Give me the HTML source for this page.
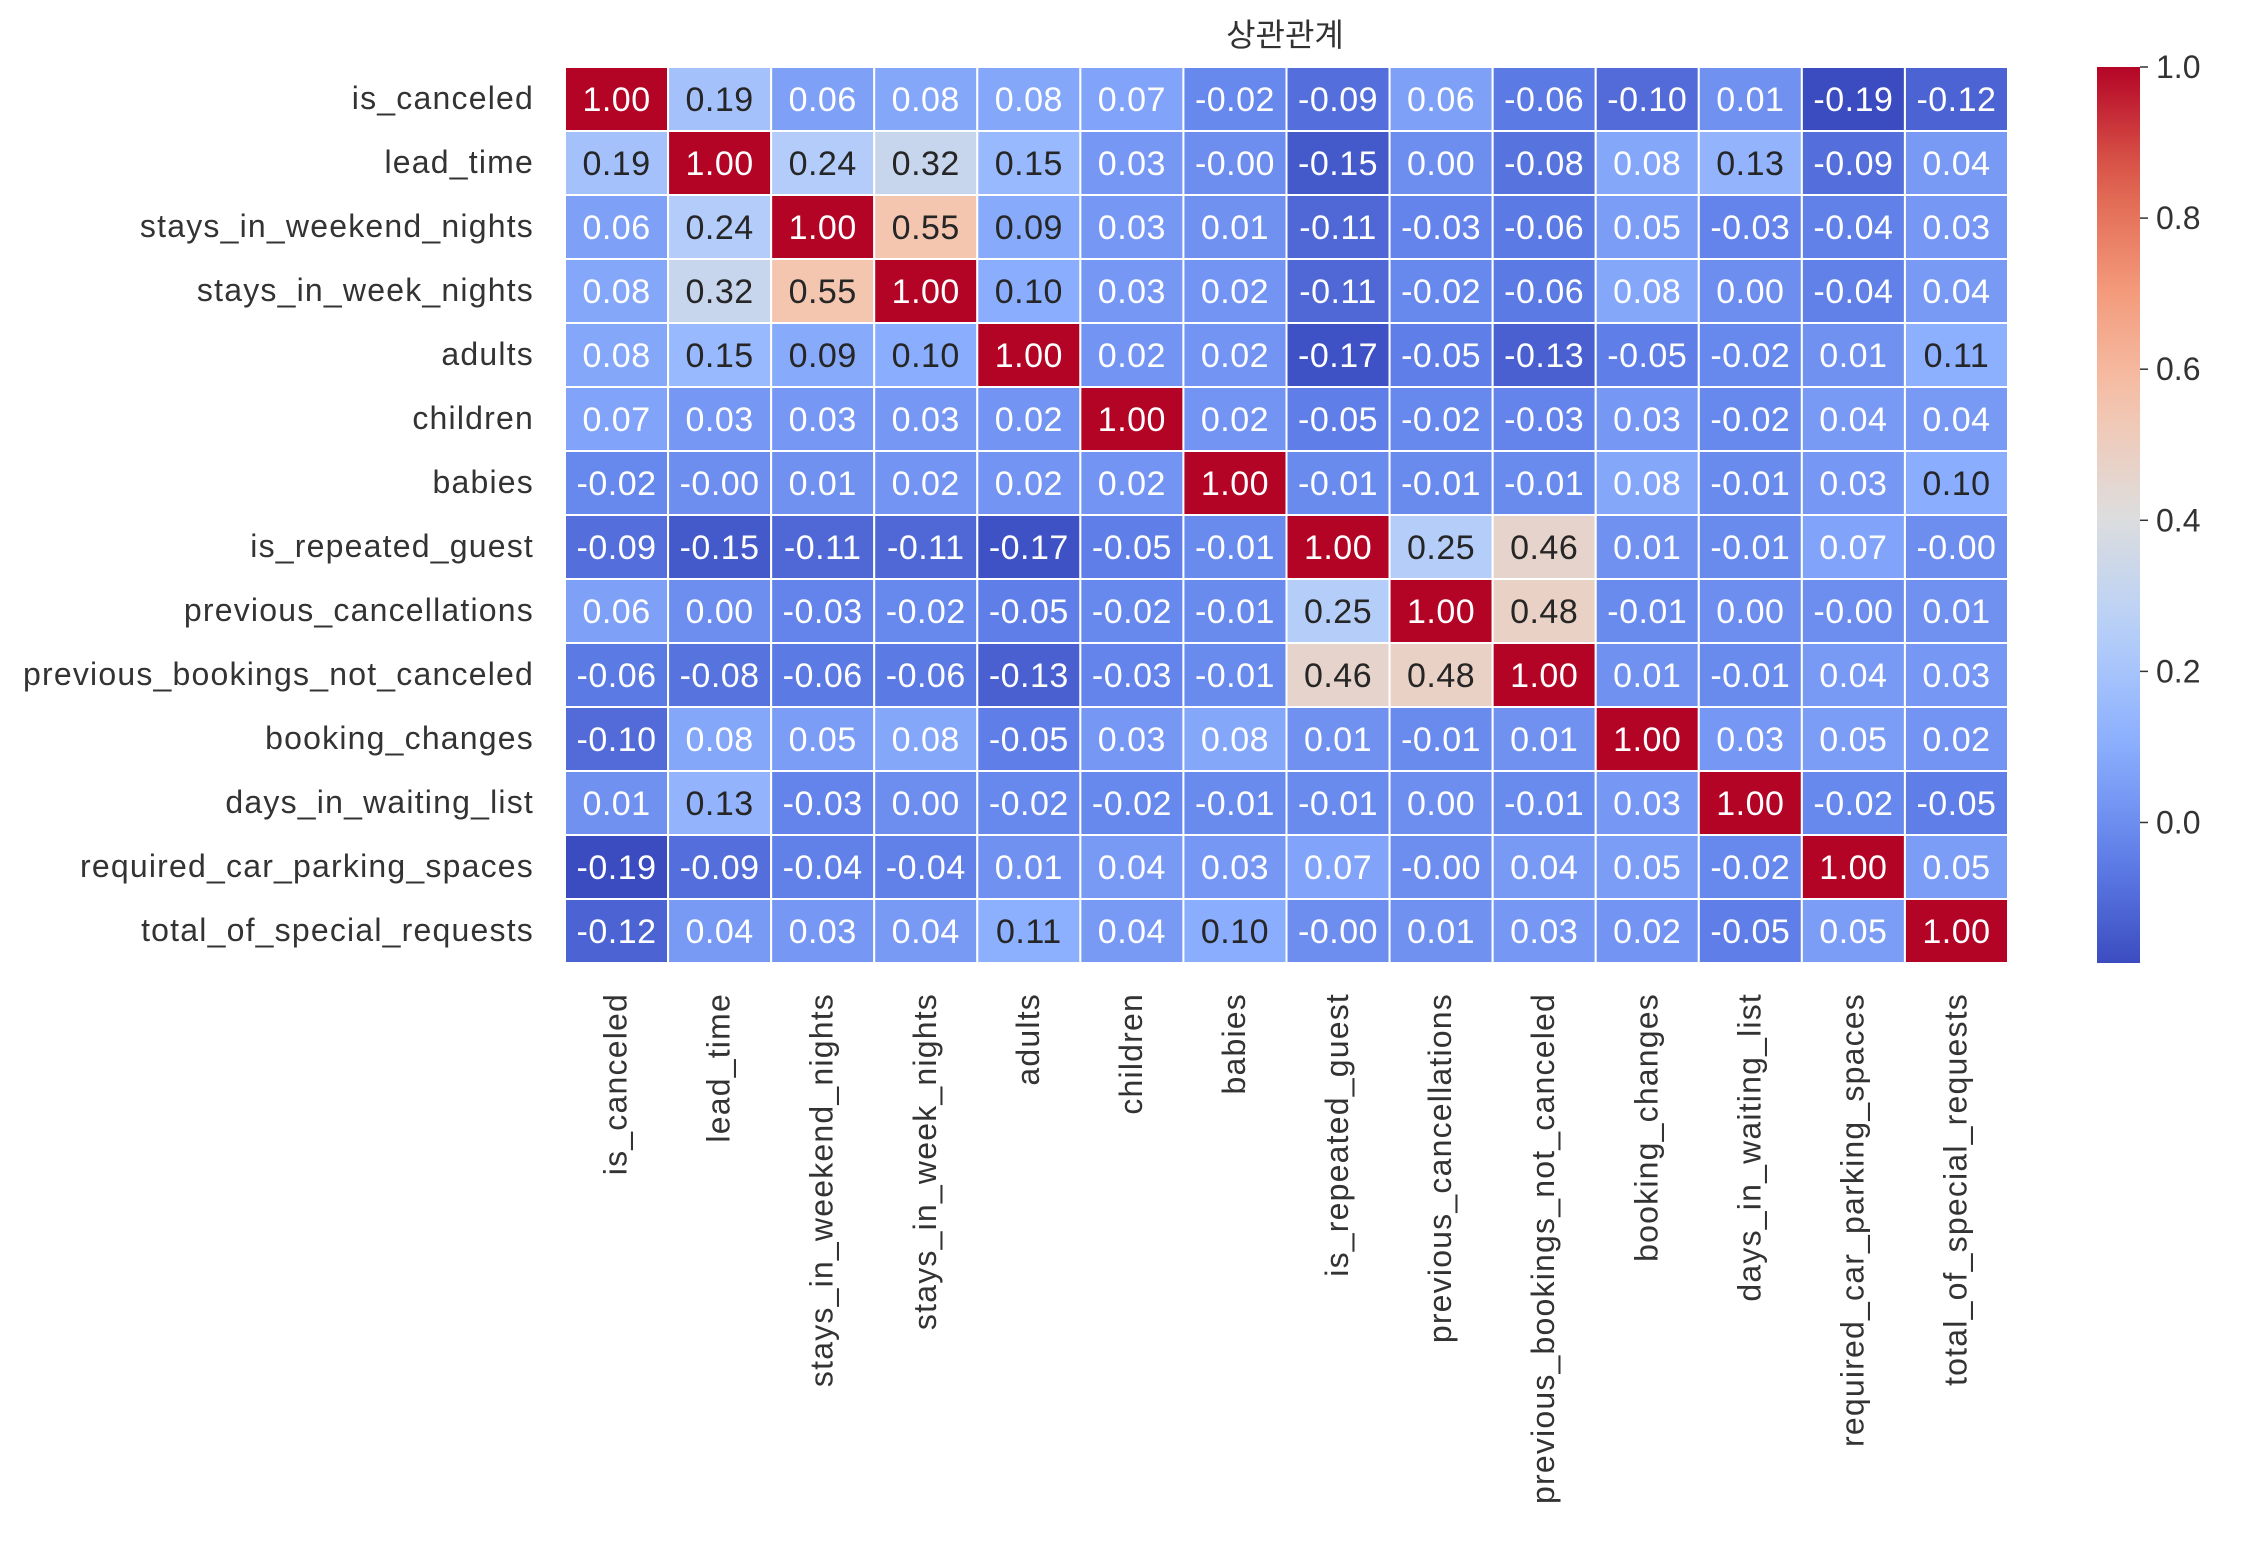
<!DOCTYPE html>
<html><head><meta charset="utf-8"><style>
html,body{margin:0;padding:0;background:#fff;}
svg text{font-family:"Liberation Sans","Noto Sans CJK KR",sans-serif;}
</style></head><body>
<svg id="chart" width="2244" height="1538" viewBox="0 0 2244 1538" xmlns="http://www.w3.org/2000/svg">
<text x="1285" y="46" font-size="32" text-anchor="middle" fill="#333">상관관계</text>
<g id="cells"></g><g id="ylabels"></g><g id="xlabels"></g>
<defs><linearGradient id="cbgrad" x1="0" y1="1" x2="0" y2="0"></linearGradient></defs>
<g id="colorbar"></g>
</svg>
<script>
const labels=["is_canceled","lead_time","stays_in_weekend_nights","stays_in_week_nights","adults","children","babies","is_repeated_guest","previous_cancellations","previous_bookings_not_canceled","booking_changes","days_in_waiting_list","required_car_parking_spaces","total_of_special_requests"];
const r01=[1.00,0.19,0.06,0.08,0.08,0.07,-0.02,-0.09,0.06,-0.06,-0.10,0.01,-0.19,-0.12];
const r02=[0.19,1.00,0.24,0.32,0.15,0.03,-0.001,-0.15,0.00,-0.08,0.08,0.13,-0.09,0.04];
const r03=[0.06,0.24,1.00,0.55,0.09,0.03,0.01,-0.11,-0.03,-0.06,0.05,-0.03,-0.04,0.03];
const r04=[0.08,0.32,0.55,1.00,0.10,0.03,0.02,-0.11,-0.02,-0.06,0.08,0.00,-0.04,0.04];
const r05=[0.08,0.15,0.09,0.10,1.00,0.02,0.02,-0.17,-0.05,-0.13,-0.05,-0.02,0.01,0.11];
const r06=[0.07,0.03,0.03,0.03,0.02,1.00,0.02,-0.05,-0.02,-0.03,0.03,-0.02,0.04,0.04];
const r07=[-0.02,-0.001,0.01,0.02,0.02,0.02,1.00,-0.01,-0.01,-0.01,0.08,-0.01,0.03,0.10];
const r08=[-0.09,-0.15,-0.11,-0.11,-0.17,-0.05,-0.01,1.00,0.25,0.46,0.01,-0.01,0.07,-0.001];
const r09=[0.06,0.00,-0.03,-0.02,-0.05,-0.02,-0.01,0.25,1.00,0.48,-0.01,0.00,-0.001,0.01];
const r10=[-0.06,-0.08,-0.06,-0.06,-0.13,-0.03,-0.01,0.46,0.48,1.00,0.01,-0.01,0.04,0.03];
const r11=[-0.10,0.08,0.05,0.08,-0.05,0.03,0.08,0.01,-0.01,0.01,1.00,0.03,0.05,0.02];
const r12=[0.01,0.13,-0.03,0.00,-0.02,-0.02,-0.01,-0.01,0.00,-0.01,0.03,1.00,-0.02,-0.05];
const r13=[-0.19,-0.09,-0.04,-0.04,0.01,0.04,0.03,0.07,-0.001,0.04,0.05,-0.02,1.00,0.05];
const r14=[-0.12,0.04,0.03,0.04,0.11,0.04,0.10,-0.001,0.01,0.03,0.02,-0.05,0.05,1.00];
const matrix=[r01,r02,r03,r04,r05,r06,r07,r08,r09,r10,r11,r12,r13,r14];
const cbTicks=[0.0,0.2,0.4,0.6,0.8,1.0];
const vmin=-0.186, vmax=1.0;

const NS="http://www.w3.org/2000/svg";
const L=565,R=2008,T=67,B=963;
const n=labels.length, cw=(R-L)/n, ch=(B-T)/n;
const xPos=i=>L+i*cw, yPos=i=>T+i*ch;
const stops=[[0,[59,76,192]],[0.125,[98,130,234]],[0.25,[141,176,254]],[0.375,[184,208,249]],[0.5,[221,221,221]],[0.625,[245,196,173]],[0.75,[244,154,123]],[0.875,[222,96,77]],[1,[180,4,38]]];
function cmapRGB(v){let t=(v-vmin)/(vmax-vmin);t=Math.max(0,Math.min(1,t));
 for(let k=1;k<stops.length;k++){if(t<=stops[k][0]){const a=stops[k-1],b=stops[k];const f=(t-a[0])/(b[0]-a[0]);return a[1].map((c,j)=>Math.round(c+(b[1][j]-c)*f));}}
 return stops[stops.length-1][1];}
function lum(c){const l=c.map(x=>{x/=255;return x<=0.03928?x/12.92:Math.pow((x+0.055)/1.055,2.4)});return 0.2126*l[0]+0.7152*l[1]+0.0722*l[2];}
function mk(tag,attrs,parent){const e=document.createElementNS(NS,tag);for(const k in attrs)e.setAttribute(k,attrs[k]);parent.appendChild(e);return e;}
const gc=document.getElementById('cells');
matrix.forEach((row,i)=>row.forEach((v,j)=>{
 const c=cmapRGB(v);
 const r=mk('rect',{x:xPos(j),y:yPos(i),width:cw,height:ch,fill:`rgb(${c})`,stroke:'#fff','stroke-width':2},gc);
 
 
 const t=mk('text',{x:xPos(j)+cw/2,y:yPos(i)+ch/2+12,'text-anchor':'middle','font-size':34,'letter-spacing':0.5,fill:lum(c)>0.408?'#262626':'#fff'},gc);
 t.textContent=v.toFixed(2);
 
 
}));
const gy=document.getElementById('ylabels'),gx=document.getElementById('xlabels');
labels.forEach((lb,i)=>{
 const t=mk('text',{x:534,y:yPos(i)+ch/2+10,'text-anchor':'end','font-size':32,'letter-spacing':1.2,fill:'#333'},gy);
 t.textContent=lb;
 
 
 const cx=xPos(i)+cw/2+10;
 const u=mk('text',{x:cx,y:993,'text-anchor':'end','font-size':32,'letter-spacing':1.2,fill:'#333',transform:`rotate(-90 ${cx} 993)`},gx);
 u.textContent=lb;
 
 
});
const grad=document.getElementById('cbgrad');
for(let k=0;k<=20;k++){const f=k/20;const c=cmapRGB(vmin+f*(vmax-vmin));mk('stop',{offset:f,'stop-color':`rgb(${c})`},grad);}
const gcb=document.getElementById('colorbar');
const cbX=2097,cbW=43;
const cbY=v=>B-(v-vmin)/(vmax-vmin)*(B-T);
const bar=mk('rect',{x:cbX,y:T,width:cbW,height:B-T,fill:'url(#cbgrad)'},gcb);


cbTicks.forEach(v=>{
 const y=cbY(v);
 mk('line',{x1:cbX+cbW,x2:cbX+cbW+8,y1:y,y2:y,stroke:'#333','stroke-width':1.5},gcb);
 const t=mk('text',{x:cbX+cbW+16,y:y+11,'font-size':32,fill:'#333'},gcb);
 t.textContent=v.toFixed(1);
 
 
});
</script>
</body></html>
